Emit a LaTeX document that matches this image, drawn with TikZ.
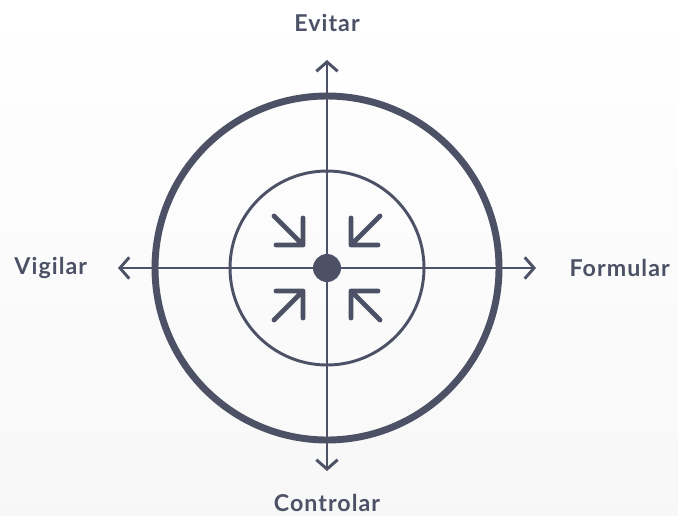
\documentclass[tikz,border=0pt]{standalone}
\usepackage{fontspec}
\setmainfont{Lato}
\newfontfamily\labelfont[LetterSpace=4.5]{Lato}
\usetikzlibrary{arrows.meta, positioning}
\definecolor{slate}{RGB}{76,81,102}

\begin{document}
\begin{tikzpicture}[
        x=0.75pt, y=-0.75pt,
        axis/.style={line width=2.2pt, draw=slate, -{Straight Barb[length=7pt, width=16pt, line width=2.2pt]}},
        ring/.style={draw=slate, line width=#1},
        hubdot/.style={circle, fill=slate, minimum size=21pt, inner sep=0pt},
        pointer/.style={draw=slate, line width=3.6pt, line cap=round, line join=round},
        lbl/.style={text=slate, inner sep=0pt, font=\labelfont\fontsize{17.4}{20}\selectfont\bfseries}
    ]

    % background
    \shade[top color=white, bottom color=gray!6] (0,0) rectangle (678,515);

    % The rings
    \draw[ring=5.2pt] (327,268) circle[radius=172];
    \draw[ring=2.2pt] (327,268) circle[radius=97];

    % Axis ends
    \coordinate (tipN) at (327,60);
    \coordinate (tipS) at (327,471);
    \coordinate (tipW) at (118,268);
    \coordinate (tipE) at (536,268);

    % The hub and the axes
    \foreach \e in {tipN, tipS, tipW, tipE}
        \draw[axis] (327,268) -- (\e);
    \node (hub) [hubdot] at (327,268) {};

    % The inward arrows
    \begin{scope}[shift={(327,268)}]
        \foreach \sx/\sy in {-1/-1, 1/-1, -1/1, 1/1}
            \draw[pointer, xscale=\sx, yscale=\sy] (53,52) -- (24,23) (24,50) -- (24,23) -- (51,23);
    \end{scope}

    % The labels
    \node (evitar) [lbl, above=21pt of tipN] {Evitar};
    \node (controlar) [lbl, below=17pt of tipS] {Controlar};
    \node (vigilar) [lbl, left=23pt of tipW] {Vigilar};
    \node (formular) [lbl, right=25pt of tipE] {Formular};

\end{tikzpicture}
\end{document}
